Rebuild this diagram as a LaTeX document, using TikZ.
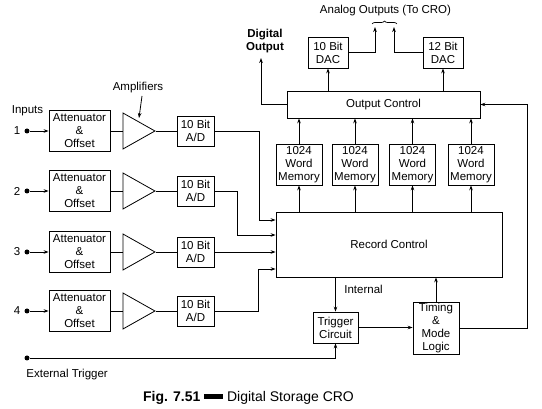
\documentclass[tikz,border=0pt]{standalone}
\usepackage{fontspec}
\setmainfont{Liberation Sans}
\usetikzlibrary{arrows.meta,shapes.geometric,decorations.pathreplacing,calc}
\begin{document}
\begin{tikzpicture}[x=1pt,y=-1pt,line width=0.8pt,
  box/.style={draw,rectangle,inner sep=0pt,align=center,font=\fontsize{11.5}{13}\selectfont},
  arr/.style={-{Stealth[length=5pt,width=3.6pt]}},
  dot/.style={circle,fill,inner sep=0pt,minimum size=5pt},
  lbl/.style={inner sep=0pt,align=center,font=\fontsize{11.5}{13}\selectfont},
  amp/.style={draw,isosceles triangle,isosceles triangle stretches,inner sep=0pt,minimum width=36pt,minimum height=32pt},
  attbox/.style={box,minimum width=61pt,minimum height=41pt},
  adbox/.style={box,minimum width=37pt,minimum height=30pt},
  membox/.style={box,minimum width=46pt,minimum height=41pt},
  dacbox/.style={box,minimum width=40pt,minimum height=31pt}]
\useasboundingbox (0,0) rectangle (542,409);

% input chains
\node[lbl] (inputs) at (27.5,111) {Inputs};
\foreach \i/\y in {1/131,2/191,3/252,4/311}{
  \node[lbl] (n\i) at (17,\y) {\i};
  \node[dot] (in\i) at (27,\y) {};
  \node[attbox] (att\i) at (79.5,\y) {Attenuator\\\&\\Offset};
  \node[amp,anchor=apex] (amp\i) at (156,\y) {};
  \node[adbox] (ad\i) at (195.5,\y) {10 Bit\\A/D};
  \draw[arr] (in\i) -- (att\i.west);
  \draw (att\i.east) -- (amp\i.lower side);
  \draw (amp\i.apex) -- (ad\i.west);
}
\node[lbl] (ampl) at (138,88) {Amplifiers};
\coordinate (ampsrc) at (142,96);
\coordinate (amptip) at (139,118);
\draw[arr] (ampsrc) -- (amptip);

% main blocks
\node[box,minimum width=226pt,minimum height=65pt] (rc) at (389,244.5) {Record Control};
\node[box,minimum width=193pt,minimum height=27pt] (oc) at (383.5,104.5) {Output Control};
\node[membox] (m1) at (299,164.5) {1024\\Word\\Memory};
\node[membox] (m2) at (355,164.5) {1024\\Word\\Memory};
\node[membox] (m3) at (412.5,164.5) {1024\\Word\\Memory};
\node[membox] (m4) at (471,164.5) {1024\\Word\\Memory};
\node[dacbox] (dac10) at (328,52.5) {10 Bit\\DAC};
\node[dacbox] (dac12) at (443,52.5) {12 Bit\\DAC};
\node[box,minimum width=45pt,minimum height=31pt] (trig) at (335.5,327.5) {Trigger\\Circuit};
\node[box,minimum width=46pt,minimum height=52pt] (tim) at (436,328) {Timing\\\&\\Mode\\Logic};

% A/D to record control
\coordinate (rc1) at ($(rc.west)+(0,-24.5)$);
\coordinate (rc2) at ($(rc.west)+(0,-9.5)$);
\coordinate (rc3) at ($(rc.west)+(0,7.5)$);
\coordinate (rc4) at ($(rc.west)+(0,24.5)$);
\draw[arr] (ad1.east) -- ++(45,0) |- (rc1);
\draw[arr] (ad2.east) -- ++(23,0) |- (rc2);
\draw[arr] (ad3.east) -- (rc3);
\draw[arr] (ad4.east) -- ++(44,0) |- (rc4);

% memories
\foreach \m in {m1,m2,m3,m4}{
  \draw[arr] (rc.north -| \m) -- (\m.south);
  \draw[arr] (\m.north) -- (\m.north |- oc.south);
}
% DACs
\draw[arr] (oc.north -| dac10) -- (dac10.south);
\draw[arr] (oc.north -| dac12) -- (dac12.south);
\coordinate (ao1) at (375,27);
\coordinate (ao2) at (394,27);
\draw[arr] (dac10.east) -| (ao1);
\draw[arr] (dac12.west) -| (ao2);
\draw[line width=0.7pt,decorate,decoration={brace,amplitude=3pt}] (372,24) -- (397,24);
\node[lbl] (aolbl) at (385.5,11) {Analog Outputs (To CRO)};

% digital output
\coordinate (dout) at (261,58);
\draw[arr] (oc.west) -| (dout);
\node[lbl,font=\fontsize{11.5}{13}\selectfont\bfseries] (dolbl) at (265,41.5) {Digital\\Output};

% trigger / timing
\draw[arr] (rc.south -| trig) -- (trig.north);
\node[lbl,anchor=west] (intl) at (344,289) {Internal};
\draw[arr] (trig.east) -- (trig.east -| tim.west);
\draw[arr] (tim.north) -- (tim.north |- rc.south);
\draw[arr] (tim.east) -- ++(68,0) |- (oc.east);
\node[dot] (ext) at (27,358) {};
\draw[arr] (ext) -| (trig.south);
\node[lbl,anchor=west] (extl) at (26,375) {External Trigger};

% caption
\node[inner sep=0pt,font=\fontsize{14}{16}\selectfont] (cap) at (248.5,398) {\textbf{Fig. 7.51} \rule[0.2em]{1.35em}{0.32em} Digital Storage CRO};
\end{tikzpicture}
\end{document}
